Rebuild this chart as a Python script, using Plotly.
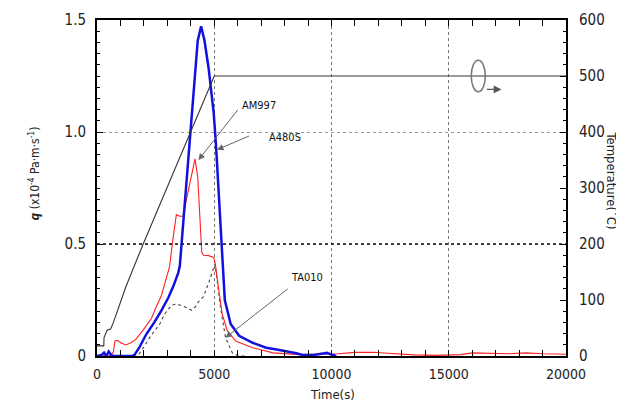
import plotly.graph_objects as go

# ---- data ----
temp_time = [0, 290, 300, 430, 580, 700, 1236, 1939, 5000, 20000]
temp_vals = [18, 18, 33, 46, 48, 60, 124, 197, 500, 500]

a480s_time = [0, 200, 300, 400, 500, 600, 700, 1000, 1500, 1600, 1800, 2100, 2450, 2750, 3040,
              3250, 3460, 3530, 3600, 3750, 3934, 4108, 4295, 4440, 4584, 4758, 4975, 5075, 5200,
              5336, 5450, 5700, 6060, 6640, 7210, 7600, 8080, 8500, 8800, 9300, 9700, 9800, 10000, 10200]
a480s_q = [0, 0.005, 0.015, 0, 0.02, 0.005, 0, 0, 0, 0.005, 0.037, 0.097, 0.151, 0.204, 0.26,
           0.31, 0.37, 0.40, 0.49, 0.70, 0.95, 1.134, 1.408, 1.472, 1.408, 1.286, 1.088, 0.94, 0.72,
           0.494, 0.25, 0.143, 0.09, 0.059, 0.037, 0.03, 0.021, 0.012, 0.004, 0.006, 0.012, 0.014, 0.006, 0]

am997_time = [0, 500, 600, 700, 767, 868, 1012, 1229, 1446, 1663, 1952, 2313, 2530, 2747, 3023,
              3095, 3240, 3384, 3529, 3674, 3818, 4034, 4179, 4295, 4396, 4468, 4541, 4758, 4975,
              5046, 5192, 5336, 5553, 5914, 6637, 7505, 8661, 9500, 10300, 11000, 11800, 12400,
              13500, 14500, 15500, 16000, 16800, 17500, 18300, 19000, 20000]
am997_q = [0, 0, 0.005, 0.02, 0.067, 0.07, 0.059, 0.049, 0.059, 0.075, 0.113, 0.166, 0.22, 0.27, 0.372,
           0.40, 0.524, 0.631, 0.624, 0.624, 0.70, 0.81, 0.88, 0.799, 0.601, 0.463, 0.45, 0.448, 0.44,
           0.41, 0.296, 0.189, 0.113, 0.067, 0.037, 0.014, 0.006, 0.008, 0.01, 0.016, 0.017, 0.012,
           0.005, 0.003, 0.006, 0.014, 0.012, 0.01, 0.014, 0.01, 0.008]

ta010_time = [0, 1500, 1800, 2000, 2241, 2450, 2675, 2900, 3182, 3400, 3745, 4034, 4200, 4324,
              4541, 4758, 4975, 5030, 5119, 5263, 5480, 5770, 6058, 6300]
ta010_q = [0, 0, 0.01, 0.04, 0.082, 0.11, 0.143, 0.19, 0.227, 0.232, 0.22, 0.204, 0.22, 0.242,
           0.265, 0.326, 0.395, 0.41, 0.341, 0.22, 0.082, 0.014, 0, 0]

FONT = "Liberation Sans Narrow, DejaVu Sans Condensed, Arial Narrow, sans-serif"

fig = go.Figure()
fig.add_trace(go.Scatter(x=temp_time, y=temp_vals, yaxis="y2", mode="lines",
                         line=dict(color="#333333", width=1.1), showlegend=False))
fig.add_trace(go.Scatter(x=ta010_time, y=ta010_q, mode="lines",
                         line=dict(color="#444444", width=1.1, dash="dot"), showlegend=False))
fig.add_trace(go.Scatter(x=am997_time, y=am997_q, mode="lines",
                         line=dict(color="#ff2020", width=1.1), showlegend=False))
fig.add_trace(go.Scatter(x=a480s_time, y=a480s_q, mode="lines",
                         line=dict(color="#1010e0", width=2.5), showlegend=False))

axis_common = dict(showline=True, linecolor="black", linewidth=2, ticks="inside", automargin=False,
                   tickcolor="black")

fig.update_layout(
    width=616, height=395,
    margin=dict(l=89, r=58, t=12, b=47, autoexpand=False),
    paper_bgcolor="white", plot_bgcolor="white",
    font=dict(family=FONT, color="#222"),
    xaxis=dict(range=[0, 20000], tickvals=[0, 5000, 10000, 15000, 20000],
               ticktext=["0", "5000", "10000", "15000", "20000"], mirror="allticks",
               ticklen=6, showgrid=True, gridcolor="#777", griddash="dot", gridwidth=1,
               minor=dict(dtick=1000, ticklen=4, ticks="inside", tickcolor="black"),
               tickfont=dict(family=FONT, size=14, color="#222"), ticklabelstandoff=4,
               zeroline=False, **axis_common),
    yaxis=dict(range=[0, 1.5], tickvals=[0, 0.5, 1.0, 1.5], ticktext=["0", "0.5", "1.0", "1.5"],
               ticklen=6, showgrid=True, gridcolor="#999", griddash="dot", gridwidth=1,
               minor=dict(dtick=0.05, ticklen=3, ticks="inside", tickcolor="black"),
               tickfont=dict(family=FONT, size=15, color="#222"),
               zeroline=False, ticklabelstandoff=6, **axis_common),
    yaxis2=dict(range=[0, 600], overlaying="y", side="right", dtick=100, ticklen=6,
                showgrid=False, zeroline=False, ticklabelstandoff=8,
                minor=dict(dtick=20, ticklen=3, ticks="inside", tickcolor="black"),
                tickfont=dict(family=FONT, size=15, color="#222"),
                **axis_common),
)

# darker dotted line at 0.5 (200 °C)
fig.add_shape(type="line", xref="paper", yref="y", x0=0, x1=1, y0=0.5, y1=0.5,
              line=dict(color="#111", width=1.5, dash="dot"))

# rotation symbol indicating right axis
fig.add_shape(type="circle", xref="x", yref="y", x0=15960, x1=16560, y0=1.18, y1=1.32,
              line=dict(color="#777", width=1.5))
fig.add_annotation(x=17250, y=1.19, ax=16560, ay=1.19, axref="x", ayref="y", xref="x", yref="y",
                   text="", showarrow=True, arrowhead=2, arrowsize=1.2, arrowwidth=1.3,
                   arrowcolor="#555")

# series labels with arrows
labels = [("AM997", 6100, 1.12, 4325, 0.875, 6050, 1.105),
          ("A480S", 7250, 0.975, 5119, 0.921, 6550, 0.985),
          ("TA010", 8200, 0.35, 5480, 0.082, 8200, 0.305)]
for txt, tx, ty, hx, hy, axx, ayy in labels:
    fig.add_annotation(x=tx, y=ty, xref="x", yref="y", text=txt, showarrow=False,
                       xanchor="left", yanchor="middle",
                       font=dict(family=FONT, size=11, color="#111"))
    fig.add_annotation(x=hx, y=hy, ax=axx, ay=ayy, axref="x", ayref="y", xref="x", yref="y",
                       text="", showarrow=True, arrowhead=2, arrowsize=1.3, arrowwidth=1,
                       arrowcolor="#666")

# axis titles
fig.add_annotation(x=-0.156, y=0.543, xref="paper", yref="paper", textangle=-90, showarrow=False,
                   text="<b><i>q</i></b> (x10<sup>-4</sup> Pa·m·s<sup>-1</sup>)",
                   font=dict(family=FONT, size=12, color="#222"))
fig.add_annotation(x=1.117, y=0.521, xref="paper", yref="paper", textangle=90, showarrow=False,
                   text="Temperature(˚C)", font=dict(family=FONT, size=13, color="#222"))
fig.add_annotation(x=0.503, y=-0.142, xref="paper", yref="paper", showarrow=False,
                   text="Time(s)", font=dict(family=FONT, size=13, color="#222"))

fig.write_html("out.html")
